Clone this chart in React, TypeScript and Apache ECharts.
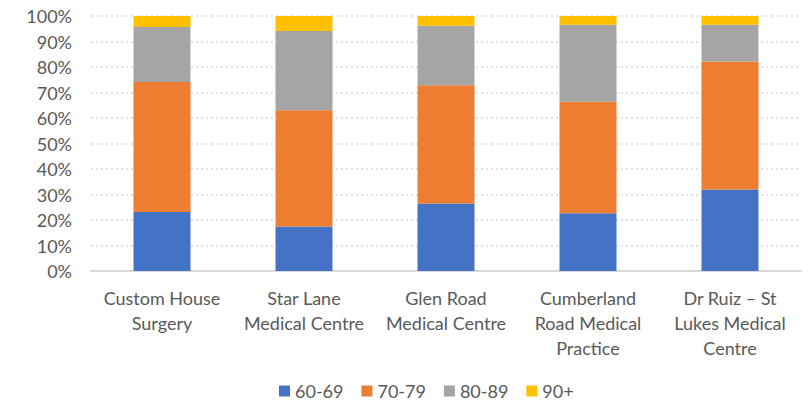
import React, { useEffect, useRef } from "react";
import * as echarts from "echarts";

const categories = [
  "Custom House\nSurgery",
  "Star Lane\nMedical Centre",
  "Glen Road\nMedical Centre",
  "Cumberland\nRoad Medical\nPractice",
  "Dr Ruiz – St\nLukes Medical\nCentre",
];
const seriesNames = ["60-69", "70-79", "80-89", "90+"];
const v6069 = [23.1, 17.5, 26.5, 22.6, 32.0];
const v7079 = [51.0, 45.5, 46.3, 43.8, 50.2];
const v8089 = [21.6, 31.1, 23.4, 30.2, 14.4];
const v90 = [4.3, 5.9, 3.8, 3.4, 3.4];
const colors = ["#4472C4", "#ED7D31", "#A5A5A5", "#FFC000"];

const FONT = "Lato, 'Open Sans', sans-serif";

export default function App() {
  const ref = useRef<HTMLDivElement>(null);
  useEffect(() => {
    const chart = echarts.init(ref.current!, null, { renderer: "svg" });
    const data = [v6069, v7079, v8089, v90];
    chart.setOption({
      animation: false,
      color: colors,
      textStyle: { fontFamily: FONT },
      grid: { left: 91, right: 9, top: 16, bottom: 133 },
      legend: {
        left: 279,
        top: 382,
        padding: 0,
        itemWidth: 11,
        itemHeight: 11,
        itemGap: 18,
        icon: "rect",
        textStyle: { color: "#595959", fontSize: 18, lineHeight: 18, fontFamily: FONT },
        data: seriesNames,
      },
      xAxis: {
        type: "category",
        data: categories,
        axisLine: { lineStyle: { color: "#d9d9d9", width: 2 } },
        axisTick: { show: false },
        axisLabel: {
          color: "#595959",
          fontSize: 18,
          lineHeight: 25,
          margin: 14,
          interval: 0,
          fontFamily: FONT,
        },
      },
      yAxis: {
        type: "value",
        min: 0,
        max: 100,
        interval: 10,
        axisLine: { show: false },
        axisTick: { show: false },
        axisLabel: {
          formatter: "{value}%",
          color: "#595959",
          fontSize: 18,
          margin: 19,
          fontFamily: FONT,
        },
        splitLine: { lineStyle: { color: "#d9d9d9", type: [2, 3], width: 1.5 } },
      },
      series: seriesNames.map((name, i) => ({
        name,
        type: "bar",
        stack: "total",
        barWidth: 57,
        data: data[i],
        itemStyle: { color: colors[i] },
      })),
    });
    return () => chart.dispose();
  }, []);
  return <div ref={ref} style={{ width: 810, height: 404, position: "absolute", left: 0, top: 0 }} />;
}
